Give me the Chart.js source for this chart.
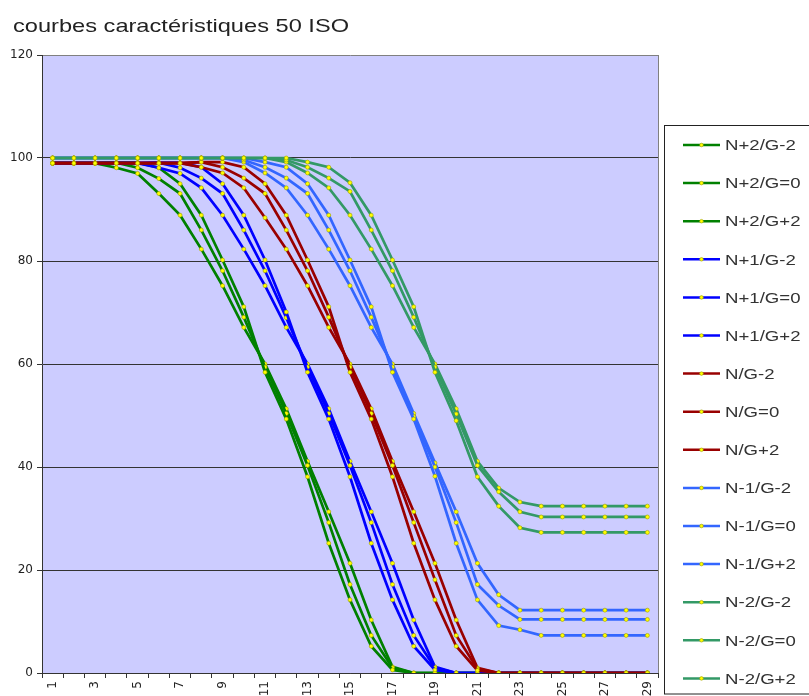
<!DOCTYPE html>
<html lang="fr">
<head>
<meta charset="utf-8">
<title>courbes caractéristiques 50 ISO</title>
<script src="https://cdn.jsdelivr.net/npm/chart.js@4.4.1/dist/chart.umd.min.js"></script>
<style>
  html, body { margin: 0; padding: 0; background: #fff; }
  #graphique { display: block; }
</style>
</head>
<body>
<canvas id="graphique" width="809" height="696"></canvas>
<script>
// Titre du graphique
const titre = 'courbes caractéristiques 50 ISO';

// Catégories de l'axe X
const categories = ['1', '2', '3', '4', '5', '6', '7', '8', '9', '10', '11', '12', '13', '14', '15',
  '16', '17', '18', '19', '20', '21', '22', '23', '24', '25', '26', '27', '28', '29'];

// Graduations de l'axe Y
const graduationsY = [0, 20, 40, 60, 80, 100, 120];

// Noms des séries (légende)
const nomsSeries = ['N+2/G-2', 'N+2/G=0', 'N+2/G+2', 'N+1/G-2', 'N+1/G=0', 'N+1/G+2',
  'N/G-2', 'N/G=0', 'N/G+2', 'N-1/G-2', 'N-1/G=0', 'N-1/G+2', 'N-2/G-2', 'N-2/G=0', 'N-2/G+2'];

// Valeurs des séries
const np2_gm2 = [99, 99, 99, 98.1, 97.0, 93.1, 88.9, 82.3, 75.2, 67.1, 60.0, 51.3, 41.1, 31.3, 21.3, 10.3, 1.2, 0, 0, 0, 0, 0, 0, 0, 0, 0, 0, 0, 0];
const np2_g0  = [99, 99, 99, 99.1, 98.1, 96.0, 93.1, 86.0, 78.1, 69.1, 59.4, 50.4, 40.3, 29.2, 17.2, 7.3, 1.0, 0, 0, 0, 0, 0, 0, 0, 0, 0, 0, 0, 0];
const np2_gp2 = [99, 99, 99, 99.1, 99.1, 98.1, 95.0, 88.9, 80.2, 71.1, 58.4, 49.3, 38.1, 25.2, 14.2, 5.2, 0.6, 0, 0, 0, 0, 0, 0, 0, 0, 0, 0, 0, 0];

const np1_gm2 = [99, 99, 99, 99, 99, 98.1, 97.0, 94.2, 88.9, 82.3, 75.2, 67.1, 60.0, 51.3, 41.1, 31.3, 21.3, 10.3, 1.2, 0, 0, 0, 0, 0, 0, 0, 0, 0, 0];
const np1_g0  = [99, 99, 99, 99, 99, 99.1, 98.1, 96.1, 93.1, 86.0, 78.1, 69.0, 59.4, 50.4, 40.3, 29.2, 17.2, 7.3, 1.0, 0, 0, 0, 0, 0, 0, 0, 0, 0, 0];
const np1_gp2 = [99, 99, 99, 99, 99, 99.1, 99.1, 98.2, 95.0, 88.9, 80.2, 70.1, 58.4, 49.3, 38.1, 25.2, 14.2, 5.2, 0.6, 0, 0, 0, 0, 0, 0, 0, 0, 0, 0];

const n_gm2 = [99, 99, 99, 99, 99, 99, 99, 98.2, 97.1, 94.2, 88.4, 82.3, 75.2, 67.1, 60.0, 51.3, 41.1, 31.3, 21.3, 10.3, 1.0, 0, 0, 0, 0, 0, 0, 0, 0];
const n_g0  = [99, 99, 99, 99, 99, 99, 99, 99.2, 98.2, 96.1, 93.1, 86.0, 78.1, 69.1, 59.4, 50.4, 40.3, 29.2, 18.1, 7.3, 0.8, 0, 0, 0, 0, 0, 0, 0, 0];
const n_gp2 = [99, 99, 99, 99, 99, 99, 99, 99.2, 99.2, 98.2, 95.0, 88.9, 80.2, 71.1, 58.4, 49.3, 38.1, 25.2, 14.2, 5.2, 0.5, 0, 0, 0, 0, 0, 0, 0, 0];

const nm1_gm2 = [100, 100, 100, 100, 100, 100, 100, 100, 100, 99.2, 97.1, 94.2, 88.9, 82.3, 75.2, 67.1, 60.0, 50.4, 40.8, 31.3, 21.3, 15.2, 12.2, 12.2, 12.2, 12.2, 12.2, 12.2, 12.2];
const nm1_g0  = [100, 100, 100, 100, 100, 100, 100, 100, 100, 99.6, 98.2, 96.1, 93.1, 86.0, 78.1, 69.1, 59.4, 49.8, 40.0, 29.2, 17.2, 13.1, 10.4, 10.4, 10.4, 10.4, 10.4, 10.4, 10.4];
const nm1_gp2 = [100, 100, 100, 100, 100, 100, 100, 100, 100, 100, 99.2, 98.2, 95.0, 88.9, 80.2, 71.1, 58.4, 49.3, 38.2, 25.2, 14.2, 9.2, 8.4, 7.3, 7.3, 7.3, 7.3, 7.3, 7.3];

const nm2_gm2 = [100, 100, 100, 100, 100, 100, 100, 100, 100, 100, 100, 99.2, 97.1, 94.2, 88.9, 82.3, 75.2, 67.1, 60.0, 51.3, 41.1, 35.9, 33.2, 32.4, 32.4, 32.4, 32.4, 32.4, 32.4];
const nm2_g0  = [100, 100, 100, 100, 100, 100, 100, 100, 100, 100, 100, 99.6, 98.2, 96.1, 93.5, 86.0, 78.1, 69.1, 59.4, 50.3, 40.3, 35.2, 31.3, 30.3, 30.3, 30.3, 30.3, 30.3, 30.3];
const nm2_gp2 = [100, 100, 100, 100, 100, 100, 100, 100, 100, 100, 100, 100, 99.2, 98.2, 95.2, 88.9, 80.2, 71.1, 58.4, 49.0, 38.1, 32.4, 28.2, 27.3, 27.3, 27.3, 27.3, 27.3, 27.3];

const valeursSeries = [np2_gm2, np2_g0, np2_gp2, np1_gm2, np1_g0, np1_gp2, n_gm2, n_g0, n_gp2,
  nm1_gm2, nm1_g0, nm1_gp2, nm2_gm2, nm2_g0, nm2_gp2];

// Couleur des traits par groupe (N+2, N+1, N, N-1, N-2)
const couleursGroupes = ['#008000', '#0000ff', '#990000', '#3366ff', '#339966'];

// Construction des jeux de données
const datasets = nomsSeries.map((nom, i) => ({
  label: nom,
  data: valeursSeries[i],
  borderColor: couleursGroupes[Math.floor(i / 3)],
  backgroundColor: couleursGroupes[Math.floor(i / 3)],
  borderWidth: 2.7,
  tension: 0,
  pointRadius: 2,
  pointBorderWidth: 0.6,
  pointBackgroundColor: '#ffff00',
  pointBorderColor: '#a0a000',
  order: nomsSeries.length - i // la dernière série passe au-dessus, comme dans Excel
}));

// Fond lavande de la zone de tracé
const fondZone = {
  id: 'fondZone',
  beforeDraw(chart) {
    const { ctx, chartArea: a } = chart;
    ctx.save();
    ctx.fillStyle = '#ccccff';
    ctx.fillRect(a.left, a.top, a.right - a.left, a.bottom - a.top);
    ctx.restore();
  },
  beforeDatasetsDraw(chart) {
    const { ctx, chartArea: a } = chart;
    ctx.save();
    ctx.strokeStyle = '#808080';
    ctx.lineWidth = 1;
    ctx.beginPath();
    ctx.moveTo(Math.round(a.right) + 0.5, a.top);
    ctx.lineTo(Math.round(a.right) + 0.5, a.bottom);
    ctx.stroke();
    ctx.restore();
  }
};

// Titre et légende dessinés à la main (texte un peu élargi)
const titreEtLegende = {
  id: 'titreEtLegende',
  afterDraw(chart) {
    const ctx = chart.ctx;
    ctx.save();

    // titre
    ctx.fillStyle = '#222';
    ctx.textBaseline = 'alphabetic';
    ctx.font = '18.6px "Liberation Sans", Arial, sans-serif';
    ctx.save();
    ctx.translate(13, 31.5);
    ctx.scale(1.27, 1);
    ctx.fillText(titre, 0, 0);
    ctx.restore();

    // cadre de la légende
    const gauche = 664.5, haut = 125.5;
    ctx.strokeStyle = '#222';
    ctx.lineWidth = 1;
    ctx.strokeRect(gauche, haut, chart.width - gauche + 5, 694 - haut);

    // entrées de la légende
    chart.data.datasets.forEach((ds, k) => {
      const y = 145 + k * 38.1;
      ctx.strokeStyle = ds.borderColor;
      ctx.lineWidth = 2.5;
      ctx.beginPath();
      ctx.moveTo(683, y);
      ctx.lineTo(720, y);
      ctx.stroke();

      ctx.beginPath();
      ctx.arc(701.5, y, 1.8, 0, Math.PI * 2);
      ctx.fillStyle = ds.pointBackgroundColor;
      ctx.fill();
      ctx.lineWidth = 0.6;
      ctx.strokeStyle = ds.pointBorderColor;
      ctx.stroke();

      ctx.fillStyle = '#333';
      ctx.textBaseline = 'middle';
      ctx.font = '15.5px "Liberation Sans", Arial, sans-serif';
      ctx.save();
      ctx.translate(725, y + 1);
      ctx.scale(1.2, 1);
      ctx.fillText(ds.label, 0, 0);
      ctx.restore();
    });

    ctx.restore();
  }
};

const policeAxes = { family: '"DejaVu Sans", sans-serif', size: 12 };

new Chart(document.getElementById('graphique'), {
  type: 'line',
  data: {
    labels: categories,
    datasets: datasets
  },
  options: {
    responsive: false,
    animation: false,
    devicePixelRatio: 1,
    layout: {
      padding: { top: 55, left: 10, right: 151, bottom: 0 }
    },
    plugins: {
      legend: { display: false },
      title: { display: false },
      tooltip: { enabled: false }
    },
    scales: {
      x: {
        type: 'category',
        offset: true,
        afterFit: (axe) => { axe.height = 23; },
        grid: {
          offset: true,
          drawOnChartArea: false,
          drawTicks: true,
          tickLength: 5,
          color: '#333'
        },
        border: { color: '#333', width: 1 },
        ticks: {
          autoSkip: false,
          minRotation: 90,
          maxRotation: 90,
          padding: 3,
          color: '#222',
          font: policeAxes,
          callback: (valeur, i) => (i % 2 === 0 ? categories[i] : '')
        }
      },
      y: {
        min: 0,
        max: 120,
        afterFit: (axe) => { axe.width = 32; },
        afterBuildTicks: (axe) => {
          axe.ticks = graduationsY.map(v => ({ value: v }));
        },
        grid: {
          color: (c) => (c.tick && c.tick.value === 120 ? '#808080' : '#333'),
          lineWidth: 1,
          drawTicks: true,
          tickLength: 5,
          tickColor: '#333'
        },
        border: { color: '#333', width: 1 },
        ticks: {
          padding: 4,
          color: '#222',
          font: policeAxes
        }
      }
    }
  },
  plugins: [fondZone, titreEtLegende]
});
</script>
</body>
</html>
